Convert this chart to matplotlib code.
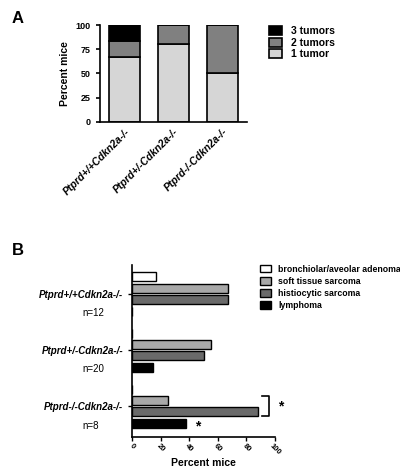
import matplotlib
matplotlib.use("Agg")
import matplotlib.pyplot as plt
import numpy as np

genotypes = ["Ptprd+/+Cdkn2a-/-", "Ptprd+/-Cdkn2a-/-", "Ptprd-/-Cdkn2a-/-"]
one_tumor = [67, 80, 50]
two_tumors = [16, 20, 50]
three_tumors = [17, 0, 0]

tumor_types = ["bronchiolar/aveolar adenoma", "soft tissue sarcoma", "histiocytic sarcoma", "lymphoma"]
adenoma = [17, 0, 0]
soft = [67, 55, 25]
histio = [67, 50, 88]
lymph = [0, 15, 38]
ns = ["n=12", "n=20", "n=8"]

plt.rcParams['font.family'] = ['Liberation Sans', 'DejaVu Sans']
fig = plt.figure(figsize=(4, 4.72), dpi=100)

# Panel A
ax = fig.add_axes([0.25, 0.742, 0.3675, 0.205])
x = np.arange(3)
w = 0.65
kw = dict(width=w, edgecolor='black', linewidth=1.2)
ax.bar(x, one_tumor, color='#d6d6d6', label='1 tumor', **kw)
ax.bar(x, two_tumors, bottom=one_tumor, color='#808080', label='2 tumors', **kw)
ax.bar(x, three_tumors, bottom=np.add(one_tumor, two_tumors), color='black', label='3 tumors', **kw)
ax.set_xlim(-0.5, 2.5)
ax.set_ylim(0, 100)
ax.set_yticks([0, 25, 50, 75, 100])
ax.set_xticks(x)
ax.set_xticklabels(genotypes, rotation=45, ha='right', rotation_mode='anchor', fontsize=7.5, fontweight='bold', style='italic')
ax.tick_params(axis='y', labelsize=6.5, width=1.2, length=3)
for l in ax.get_yticklabels():
    l.set_fontweight('bold')
ax.tick_params(axis='x', length=0)
ax.set_ylabel("Percent mice", fontsize=7.5, fontweight='bold')
for s in ['top', 'right']:
    ax.spines[s].set_visible(False)
for s in ['left', 'bottom']:
    ax.spines[s].set_linewidth(1.2)
h, lab = ax.get_legend_handles_labels()
ax.legend(h[::-1], lab[::-1], loc='upper left', bbox_to_anchor=(1.12, 1.03), frameon=False,
          prop={'weight': 'bold', 'size': 7.5}, handlelength=1.3, handleheight=0.9,
          labelspacing=0.15, borderaxespad=0)
fig.text(0.03, 0.96, "A", fontsize=12, fontweight='bold', va='center')

# Panel B
bx = fig.add_axes([0.33, 0.074, 0.3575, 0.365])
colors = ['white', '#a8a8a8', '#6a6a6a', 'black']
series = [adenoma, soft, histio, lymph]
offsets = [-1.4, -0.45, 0.45, 1.45]
gap = 4.67
for i, (vals, c, name) in enumerate(zip(series, colors, tumor_types)):
    ys = [g * gap + offsets[i] for g in range(3)]
    bx.barh(ys, vals, height=0.75, color=c, edgecolor='black', linewidth=1.0, label=name)
bx.set_ylim(11.9, -2.4)
bx.set_xlim(0, 100)
bx.set_xticks([0, 20, 40, 60, 80, 100])
bx.tick_params(axis='x', labelsize=5.5, width=1.0, length=3, pad=1)
for l in bx.get_xticklabels():
    l.set_rotation(-45)
    l.set_ha('center')
    l.set_fontweight('bold')
bx.set_yticks([g * gap for g in range(3)])
bx.set_yticklabels(genotypes, fontsize=7, fontweight='bold', style='italic')
bx.tick_params(axis='y', width=1.0, length=3)
for g in range(3):
    bx.text(-0.35, g * gap + 1.6, ns[g], transform=bx.get_yaxis_transform(), fontsize=7, ha='left', va='center')
bx.set_xlabel("Percent mice", fontsize=7.5, fontweight='bold', labelpad=1)
for s in ['top', 'right']:
    bx.spines[s].set_visible(False)
for s in ['left', 'bottom']:
    bx.spines[s].set_linewidth(1.2)
# significance
y1 = 2 * gap + offsets[1] - 0.4
y2 = 2 * gap + offsets[2] + 0.4
bx.plot([91, 96, 96, 91], [y1, y1, y2, y2], color='black', lw=1.2, clip_on=False)
bx.text(104, (y1 + y2) / 2, "*", fontsize=10, fontweight='bold', va='center', ha='center')
bx.text(46, 2 * gap + offsets[3] + 0.2, "*", fontsize=10, fontweight='bold', va='center', ha='center')
bx.legend(loc='upper left', bbox_to_anchor=(0.87, 1.02), frameon=False,
          prop={'weight': 'bold', 'size': 6.3}, handlelength=1.3, handleheight=0.9,
          labelspacing=0.35, borderaxespad=0)
fig.text(0.03, 0.47, "B", fontsize=12, fontweight='bold', va='center')

fig.savefig("out.png", dpi=100)
